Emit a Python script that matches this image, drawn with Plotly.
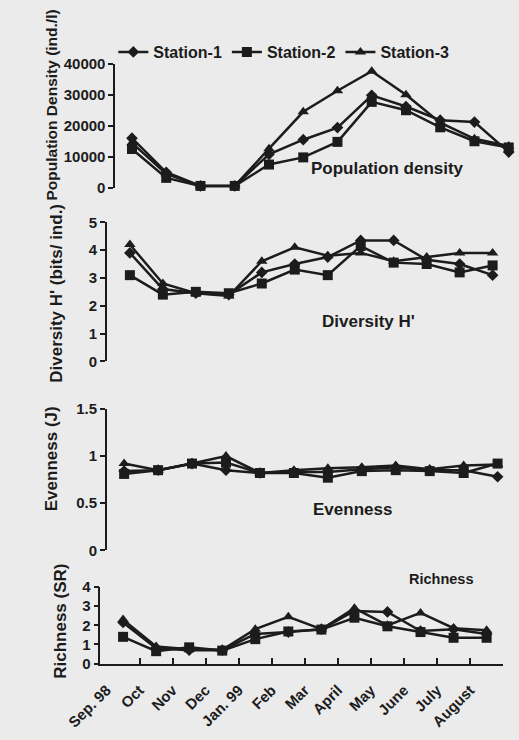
import plotly.graph_objects as go

months = ["Sep. 98", "Oct", "Nov", "Dec", "Jan. 99", "Feb", "Mar",
          "April", "May", "June", "July", "August"]
stations = ["Station-1", "Station-2", "Station-3"]

density_s1 = [16000, 5000, 600, 600, 10800, 15500, 19400, 29800, 26200, 21800, 21200, 11500]
density_s2 = [12500, 3200, 600, 600, 7500, 9800, 14800, 27700, 25000, 19500, 15000, 13000]
density_s3 = [14500, 4500, 600, 600, 12600, 24500, 31300, 37600, 30000, 21000, 15800, 13500]

diversity_s1 = [3.9, 2.6, 2.45, 2.4, 3.2, 3.5, 3.75, 4.35, 4.35, 3.65, 3.5, 3.1]
diversity_s2 = [3.1, 2.4, 2.5, 2.45, 2.8, 3.3, 3.1, 4.15, 3.55, 3.5, 3.2, 3.45]
diversity_s3 = [4.2, 2.8, 2.45, 2.35, 3.6, 4.1, 3.8, 3.9, 3.6, 3.75, 3.9, 3.9]

evenness_s1 = [0.84, 0.85, 0.92, 0.85, 0.82, 0.83, 0.83, 0.86, 0.88, 0.85, 0.85, 0.78]
evenness_s2 = [0.81, 0.85, 0.92, 0.93, 0.82, 0.82, 0.77, 0.84, 0.85, 0.84, 0.82, 0.92]
evenness_s3 = [0.92, 0.85, 0.92, 1.00, 0.82, 0.85, 0.87, 0.88, 0.90, 0.86, 0.90, 0.91]

richness_s1 = [2.15, 0.8, 0.7, 0.7, 1.55, 1.65, 1.8, 2.75, 2.7, 1.7, 1.8, 1.55]
richness_s2 = [1.4, 0.65, 0.85, 0.68, 1.28, 1.68, 1.78, 2.4, 1.95, 1.65, 1.35, 1.35]
richness_s3 = [2.3, 0.9, 0.75, 0.72, 1.8, 2.45, 1.8, 2.9, 2.0, 2.65, 1.85, 1.75]

W, H = 519, 740
INK = "#1c1c1c"
BG = "#ebebeb"
FONT = "Liberation Sans, Arial, sans-serif"
symbols = ["diamond", "square", "triangle-up"]
msizes = [9, 10, 10]

panels = [
    (density_s1, density_s2, density_s3),
    (diversity_s1, diversity_s2, diversity_s3),
    (evenness_s1, evenness_s2, evenness_s3),
    (richness_s1, richness_s2, richness_s3),
]


def bold(size):
    return dict(family=FONT, size=size, color=INK, weight="bold")


xidx = list(range(len(months)))
fig = go.Figure()
for p, series in enumerate(panels):
    ax = "" if p == 0 else str(p + 1)
    for s, vals in enumerate(series):
        fig.add_trace(go.Scatter(
            x=xidx, y=vals, mode="lines+markers", name=stations[s],
            xaxis="x" + ax, yaxis="y" + ax,
            line=dict(color=INK, width=2.5),
            marker=dict(symbol=symbols[s], size=msizes[s], color=INK),
            showlegend=(p == 0), cliponaxis=False,
        ))

# invisible helper trace so the label axis is drawn
fig.add_trace(go.Scatter(x=[0], y=[0], xaxis="x5", yaxis="y4", mode="markers",
                         marker=dict(opacity=0), showlegend=False, hoverinfo="skip"))


def px_x(v):
    return v / W


def px_y(v):
    return 1 - v / H


yax_common = dict(showline=True, linecolor=INK, linewidth=1.5, ticks="outside",
                  ticklen=5, tickcolor=INK, tickwidth=1.5, showgrid=False,
                  zeroline=False, tickfont=bold(15))
xhidden = dict(visible=False, showgrid=False, zeroline=False)

x4_dom = [px_x(70), px_x(502)]
x4_rng = [-0.69, 11.5]

layout = dict(
    width=W, height=H, paper_bgcolor=BG, plot_bgcolor=BG,
    margin=dict(l=0, r=0, t=0, b=0),
    font=dict(family=FONT, color=INK),
    xaxis=dict(domain=[px_x(86), 1], range=[-0.49, 11.3], anchor="y", **xhidden),
    xaxis2=dict(domain=[px_x(77), 1], range=[-0.70, 11.8], anchor="y2", **xhidden),
    xaxis3=dict(domain=[px_x(77), 1], range=[-0.51, 11.63], anchor="y3", **xhidden),
    xaxis4=dict(domain=x4_dom, range=x4_rng, anchor="y4",
                showline=True, linecolor=INK, linewidth=1.5, showgrid=False,
                zeroline=False, ticks="inside", ticklen=6, tickcolor=INK,
                tickwidth=1.5, tickmode="array",
                tickvals=[i + 0.5 for i in xidx], ticktext=["" for _ in xidx]),
    xaxis5=dict(domain=x4_dom, range=x4_rng, anchor="y4", overlaying="x4",
                showline=False, showgrid=False, zeroline=False, ticks="",
                tickmode="array", tickvals=[i - 0.5 for i in xidx],
                ticktext=months, tickangle=-45, ticklabelstandoff=14,
                tickfont=bold(15)),
    yaxis=dict(domain=[px_y(183), px_y(56)], range=[0, 40000], dtick=10000,
               tickformat="d", anchor="x", **yax_common),
    yaxis2=dict(domain=[px_y(360.7), px_y(218.3)], range=[0, 5], dtick=1,
                anchor="x2", **yax_common),
    yaxis3=dict(domain=[px_y(554), px_y(409.3)], range=[0, 1.5], dtick=0.5,
                anchor="x3", **yax_common),
    yaxis4=dict(domain=[px_y(670), px_y(591.7)], range=[0, 4], dtick=1,
                anchor="x4", **yax_common),
    legend=dict(orientation="h", x=px_x(84), y=px_y(44), xanchor="left",
                yanchor="middle", bgcolor="rgba(0,0,0,0)",
                font=bold(16), itemwidth=30, tracegroupgap=0),
)
fig.update_layout(**layout)

ytitles = [
    ("Population Density (ind./l)", 18, 98, 15.5),
    ("Diversity H' (bits/ ind.)", 23, 291, 17),
    ("Evenness (J)", 18, 460, 17),
    ("Richness (SR)", 27, 627, 17),
]
for text, x, y, size in ytitles:
    fig.add_annotation(text=text, x=px_x(x), y=px_y(y), xref="paper", yref="paper",
                       textangle=-90, showarrow=False, xanchor="center",
                       yanchor="middle", font=bold(size))

ptitles = [
    ("Population density", 378, 163, 17),
    ("Diversity H'", 358, 320, 17),
    ("Evenness", 340, 512, 17),
    ("Richness", 435, 583, 14.5),
]
for text, x, y, size in ptitles:
    fig.add_annotation(text=text, x=px_x(x), y=px_y(y), xref="paper", yref="paper",
                       showarrow=False, xanchor="center", yanchor="middle",
                       font=bold(size))

fig.write_html("out.html", config={"displayModeBar": False},
               post_script="document.body.style.margin='0';"
                           "document.body.style.overflow='hidden';")
